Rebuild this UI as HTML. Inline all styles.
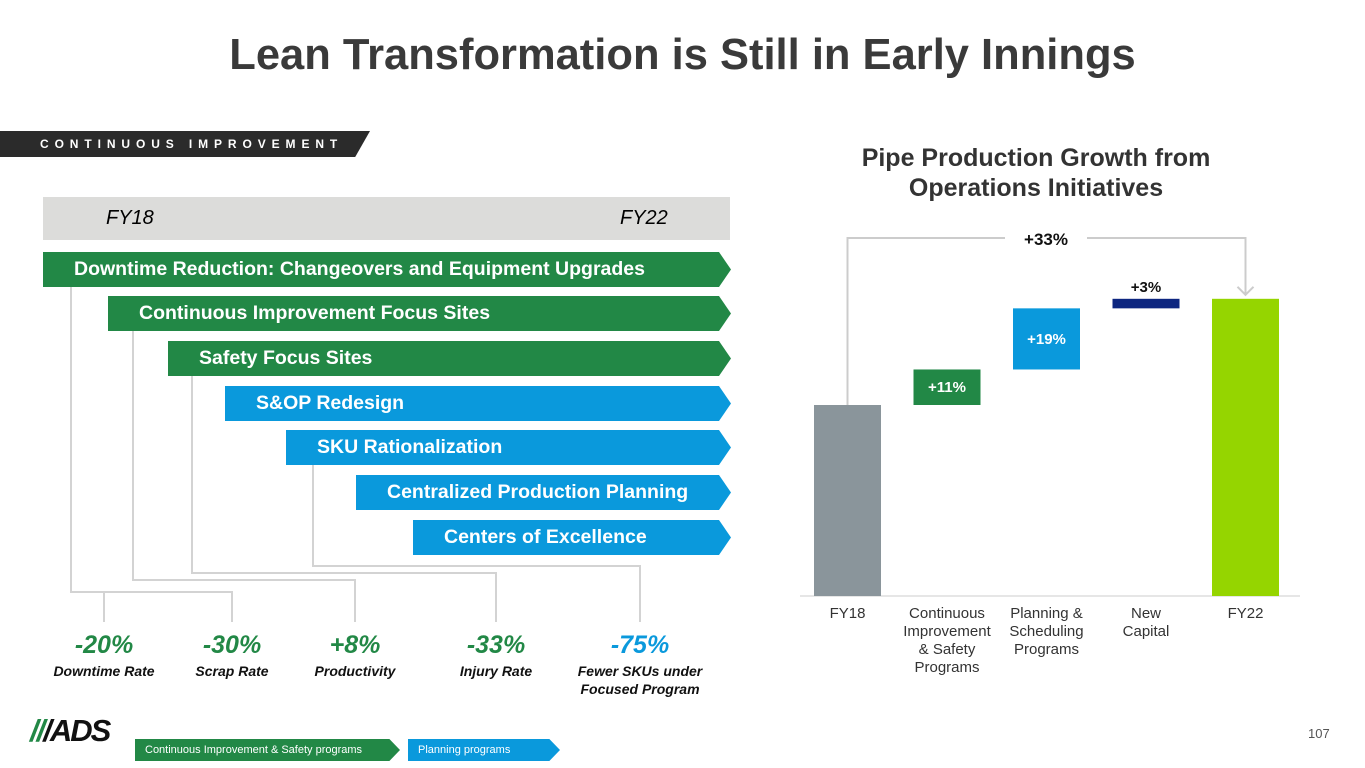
<!DOCTYPE html>
<html><head><meta charset="utf-8"><style>
body{margin:0;width:1365px;height:768px;background:#fff;font-family:"Liberation Sans",sans-serif;position:relative;overflow:hidden}
.abs{position:absolute}
.bar{position:absolute;height:35px;color:#fff;font-weight:bold;font-size:19.5px;line-height:35px;padding-left:31px;box-sizing:border-box;white-space:nowrap;clip-path:polygon(0 0,calc(100% - 12px) 0,100% 50%,calc(100% - 12px) 100%,0 100%)}
.g{background:#228846}.b{background:#0a99dc}
.kpi{position:absolute;text-align:center;width:160px;font-style:italic;font-weight:bold}
.kpi .v{font-size:25px}
.kpi .l{font-size:14px;color:#111;line-height:18px;margin-top:2px}
</style></head><body>
<div class="abs" style="left:0;width:1365px;top:31px;text-align:center;font-size:43.5px;font-weight:bold;color:#3a3a3a;white-space:nowrap">Lean Transformation is Still in Early Innings</div>
<div class="abs" style="left:0;top:131px;width:370px;height:26px;background:#2b2b2b;clip-path:polygon(0 0,100% 0,96% 100%,0 100%);color:#fff;font-size:12px;font-weight:bold;letter-spacing:5.9px;line-height:26px;padding-left:40px;box-sizing:border-box;white-space:nowrap">CONTINUOUS IMPROVEMENT</div>
<div class="abs" style="left:43px;top:197px;width:687px;height:43px;background:#dcdcda;font-style:italic;font-size:20px;line-height:43px">
<span style="position:absolute;left:63px">FY18</span><span style="position:absolute;left:577px">FY22</span></div>
<svg class="abs" style="left:0;top:0" width="1365" height="768">
<g fill="none" stroke="#d3d3d3" stroke-width="2">
<polyline points="71,287 71,592 232,592 232,622"/>
<polyline points="133,331 133,580 355,580 355,622"/>
<polyline points="192,376 192,573 496,573 496,622"/>
<polyline points="313,465 313,566 640,566 640,622"/>
<polyline points="104,592 104,622"/>
</g></svg>
<div class="bar g" style="left:43px;top:252px;width:688px">Downtime Reduction: Changeovers and Equipment Upgrades</div>
<div class="bar g" style="left:108px;top:296px;width:623px">Continuous Improvement Focus Sites</div>
<div class="bar g" style="left:168px;top:341px;width:563px">Safety Focus Sites</div>
<div class="bar b" style="left:225px;top:386px;width:506px">S&amp;OP Redesign</div>
<div class="bar b" style="left:286px;top:430px;width:445px">SKU Rationalization</div>
<div class="bar b" style="left:356px;top:475px;width:375px">Centralized Production Planning</div>
<div class="bar b" style="left:413px;top:520px;width:318px">Centers of Excellence</div>
<div class="kpi" style="left:24px;top:631px;color:#228846"><div class="v">-20%</div><div class="l">Downtime Rate</div></div>
<div class="kpi" style="left:152px;top:631px;color:#228846"><div class="v">-30%</div><div class="l">Scrap Rate</div></div>
<div class="kpi" style="left:275px;top:631px;color:#228846"><div class="v">+8%</div><div class="l">Productivity</div></div>
<div class="kpi" style="left:416px;top:631px;color:#228846"><div class="v">-33%</div><div class="l">Injury Rate</div></div>
<div class="kpi" style="left:560px;top:631px;color:#0a99dc"><div class="v">-75%</div><div class="l">Fewer SKUs under<br>Focused Program</div></div>
<div class="abs" style="left:30px;top:713px;font-size:31px;font-weight:bold;font-style:italic;letter-spacing:-2px;color:#111"><span style="color:#228846">//</span>/ADS</div>
<div class="abs" style="left:135px;top:739px;width:265px;height:22px;background:#228846;color:#fff;font-size:11px;line-height:22px;padding-left:10px;box-sizing:border-box;white-space:nowrap;clip-path:polygon(0 0,96% 0,100% 50%,96% 100%,0 100%)">Continuous Improvement &amp; Safety programs</div>
<div class="abs" style="left:408px;top:739px;width:152px;height:22px;background:#0a99dc;color:#fff;font-size:11px;line-height:22px;padding-left:10px;box-sizing:border-box;clip-path:polygon(0 0,93% 0,100% 50%,93% 100%,0 100%)">Planning programs</div>
<div class="abs" style="left:1308px;top:726px;font-size:13px;color:#555">107</div>
<div class="abs" style="left:786px;top:143px;width:500px;text-align:center;font-size:25px;font-weight:bold;color:#333;line-height:30px">Pipe Production Growth from<br>Operations Initiatives</div>
<svg id="chart" class="abs" style="left:0;top:0" width="1365" height="768"></svg>
<script>
const categories=["FY18","Continuous|Improvement|& Safety|Programs","Planning &|Scheduling|Programs","New|Capital","FY22"];
const values=[100,18.6,32,5,155.6];
const valueLabels=["","+11%","+19%","+3%",""];
const barTypes=["total","delta","delta","delta","total"];
const colors=["#8a959b","#228846","#0a99dc","#0d2680","#95d500"];
const totalLabel="+33%";
const svg=document.getElementById('chart');
const NS="http://www.w3.org/2000/svg";
const base=596,scale=191/100,x0=814,step=99.5,bw=67;
const y=v=>base-v*scale;
const xb=i=>x0+i*step;
function mk(t,a){const e=document.createElementNS(NS,t);for(const k in a)e.setAttribute(k,a[k]);svg.appendChild(e);return e;}
let ax=mk('line',{x1:800,x2:1300,y1:base,y2:base,stroke:'#ddd','stroke-width':1.5});


let cum=0;
const tops=[];
values.forEach((v,i)=>{
 let lo,hi;
 if(barTypes[i]==='total'){lo=0;hi=v;cum=v;}else{lo=cum;hi=cum+v;cum=hi;}
 tops.push(y(hi));
 const r=mk('rect',{x:xb(i),y:y(hi),width:bw,height:y(lo)-y(hi),fill:colors[i]});
 
 
 if(valueLabels[i]){
  const inside=(y(lo)-y(hi))>25;
  const t=mk('text',{x:xb(i)+bw/2,y:inside?(y(hi)+y(lo))/2+5:y(hi)-7,'text-anchor':'middle','font-size':15,'font-weight':'bold',fill:inside?'#fff':'#111','font-family':'Liberation Sans'});
  t.textContent=valueLabels[i];
  
  
 }
 categories[i].split('|').forEach((ln,j)=>{
  const t=mk('text',{x:xb(i)+bw/2,y:618+j*18,'text-anchor':'middle','font-size':15,fill:'#333','font-family':'Liberation Sans'});
  t.textContent=ln;
  
  
 });
});
const lx=xb(0)+bw/2,rx=xb(4)+bw/2,by=238;
const br=mk('polyline',{points:`${lx},${tops[0]} ${lx},${by} 1005,${by}`,fill:'none',stroke:'#ccc','stroke-width':2});


const br2=mk('polyline',{points:`1087,${by} ${rx},${by} ${rx},${tops[4]-4}`,fill:'none',stroke:'#ccc','stroke-width':2});


const ar=mk('polyline',{points:`${rx-8},${tops[4]-12} ${rx},${tops[4]-4} ${rx+8},${tops[4]-12}`,fill:'none',stroke:'#ccc','stroke-width':2});


const tl=mk('text',{x:1046,y:by+7,'text-anchor':'middle','font-size':17,'font-weight':'bold',fill:'#111','font-family':'Liberation Sans'});
tl.textContent=totalLabel;


</script>
</body></html>
